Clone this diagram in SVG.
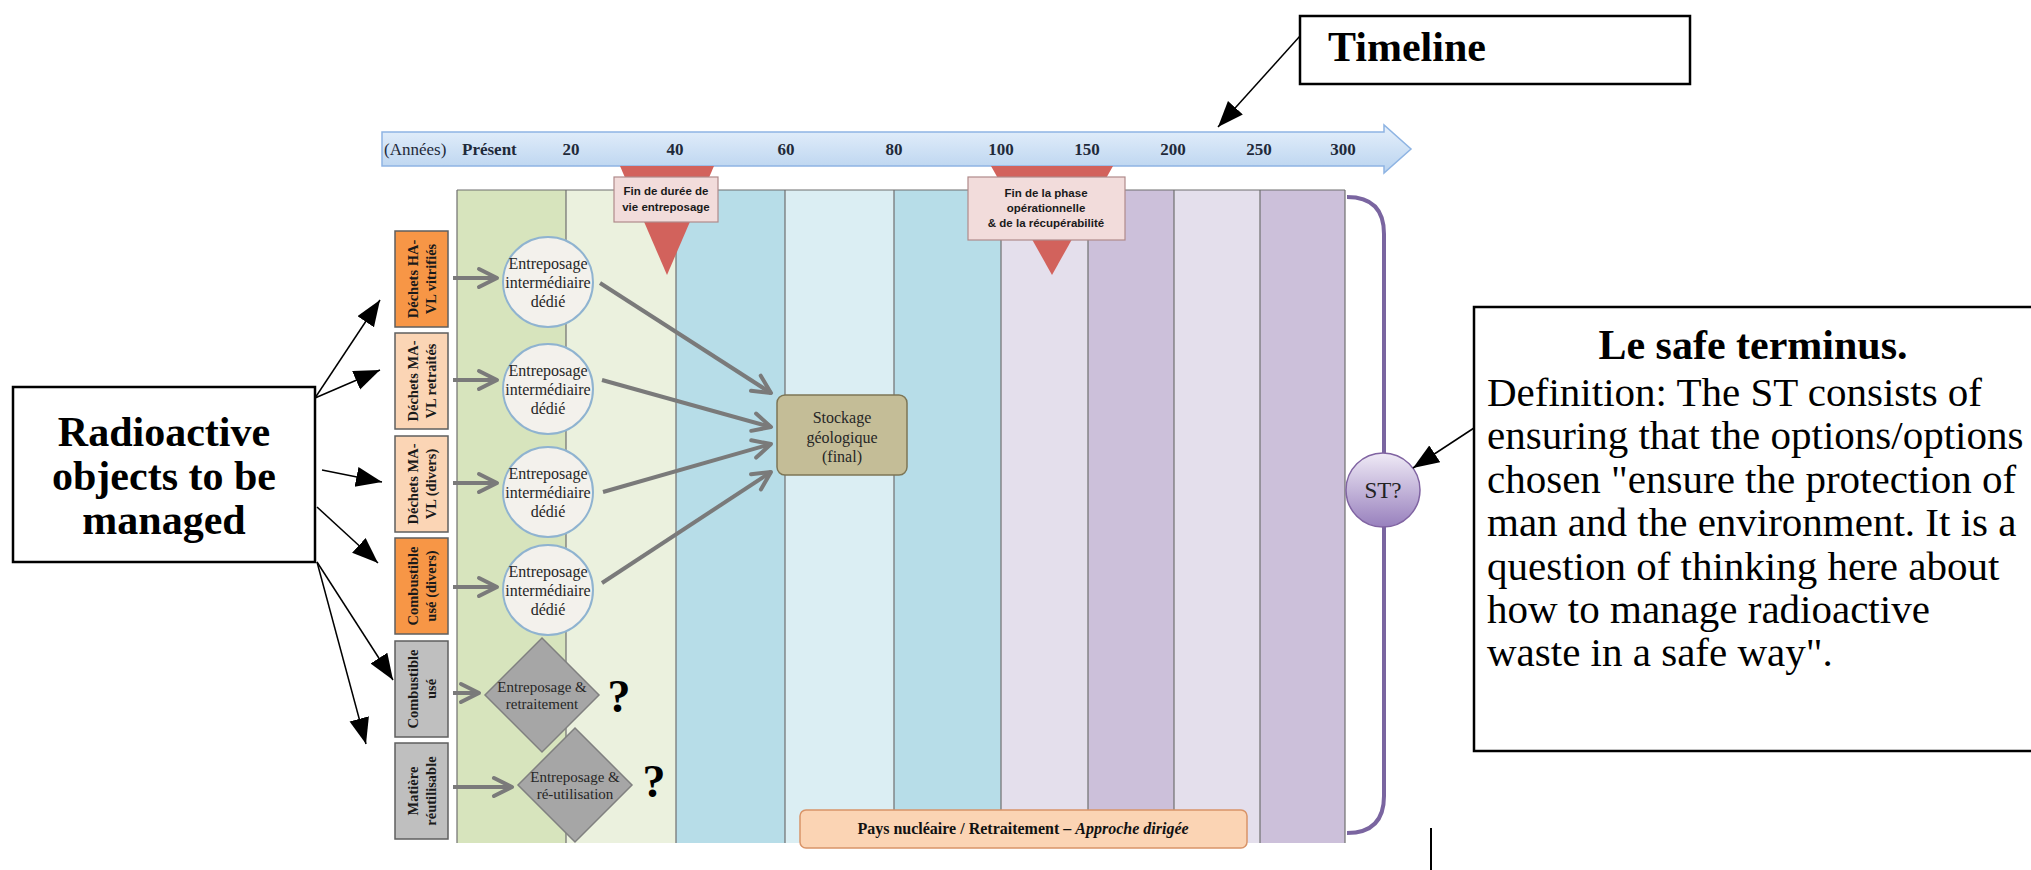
<svg xmlns="http://www.w3.org/2000/svg" width="2031" height="870" viewBox="0 0 2031 870">
<style>
.serif{font-family:"Liberation Serif","Times New Roman",serif}
.sans{font-family:"Liberation Sans",Arial,sans-serif}
.cat{font-family:"Liberation Serif",serif;font-weight:bold;font-size:14.5px;fill:#1a1a1a;text-anchor:middle}
.circ{fill:#f3f1ec;stroke:#8fb3d0;stroke-width:2}
.ctext{font-family:"Liberation Serif",serif;font-size:16px;fill:#262626;text-anchor:middle}
.dia{fill:#a6a6a6;stroke:#808080;stroke-width:1.5}
.dtext{font-family:"Liberation Serif",serif;font-size:15px;fill:#262626;text-anchor:middle}
.tl{font-family:"Liberation Serif",serif;font-size:17px;fill:#1f2a3a;font-weight:bold}
.garrow{stroke:#7a7a7a;stroke-width:4;fill:none;marker-end:url(#chev)}
.barrow{stroke:#000;stroke-width:1.5;fill:none;marker-end:url(#blk)}
.div{stroke:#6f6f6f;stroke-width:1.2}
.lbl{font-family:"Liberation Sans",Arial,sans-serif;font-weight:bold;font-size:11.5px;fill:#1a1a1a;text-anchor:middle}
.big{font-family:"Liberation Serif",serif;font-weight:bold;font-size:42px;fill:#000}
.body{font-family:"Liberation Serif",serif;font-size:41px;fill:#000}
</style>
<defs>
<linearGradient id="tlg" x1="0" y1="0" x2="0" y2="1">
<stop offset="0" stop-color="#e6f0fb"/>
<stop offset="1" stop-color="#b9d3ef"/>
</linearGradient>
<linearGradient id="stg" x1="0" y1="0" x2="0" y2="1">
<stop offset="0" stop-color="#efeaf6"/>
<stop offset="1" stop-color="#9880bd"/>
</linearGradient>
<marker id="chev" markerUnits="userSpaceOnUse" markerWidth="26" markerHeight="26" refX="21" refY="12" orient="auto">
<path d="M3,3 L21,12 L3,21" fill="none" stroke="#7a7a7a" stroke-width="4" stroke-linecap="round" stroke-linejoin="round"/>
</marker>
<marker id="blk" markerUnits="userSpaceOnUse" markerWidth="28" markerHeight="22" refX="26" refY="10" orient="auto">
<path d="M0,0 L26,10 L0,20 z" fill="#000"/>
</marker>
</defs>

<!-- timeline band columns -->
<g id="bands">
<rect x="457" y="190" width="109" height="653" fill="#d7e4bd"/>
<rect x="566" y="190" width="110" height="653" fill="#ebf1de"/>
<rect x="676" y="190" width="109" height="653" fill="#b7dde8"/>
<rect x="785" y="190" width="109" height="653" fill="#dbeef3"/>
<rect x="894" y="190" width="107" height="653" fill="#b7dde8"/>
<rect x="1001" y="190" width="87" height="653" fill="#e4dfec"/>
<rect x="1088" y="190" width="86" height="653" fill="#ccc0da"/>
<rect x="1174" y="190" width="86" height="653" fill="#e4dfec"/>
<rect x="1260" y="190" width="85" height="653" fill="#ccc0da"/>
<line class="div" x1="457" y1="190" x2="1345" y2="190"/>
<line class="div" x1="457" y1="190" x2="457" y2="843"/>
<line class="div" x1="566" y1="190" x2="566" y2="843"/>
<line class="div" x1="676" y1="190" x2="676" y2="843"/>
<line class="div" x1="785" y1="190" x2="785" y2="843"/>
<line class="div" x1="894" y1="190" x2="894" y2="843"/>
<line class="div" x1="1001" y1="190" x2="1001" y2="843"/>
<line class="div" x1="1088" y1="190" x2="1088" y2="843"/>
<line class="div" x1="1174" y1="190" x2="1174" y2="843"/>
<line class="div" x1="1260" y1="190" x2="1260" y2="843"/>
<line class="div" x1="1345" y1="190" x2="1345" y2="843"/>
</g>

<!-- timeline arrow -->
<g id="timeline-arrow">
<path d="M382,132 L1384,132 L1384,125 L1411,149 L1384,173 L1384,166 L382,166 z" fill="url(#tlg)" stroke="#8eb4e3" stroke-width="1.5"/>
<text class="serif" x="384" y="155" font-size="17" fill="#1f2a3a">(Années)</text>
<text class="tl" x="462" y="155">Présent</text>
<text class="tl" x="571" y="155" text-anchor="middle">20</text>
<text class="tl" x="675" y="155" text-anchor="middle">40</text>
<text class="tl" x="786" y="155" text-anchor="middle">60</text>
<text class="tl" x="894" y="155" text-anchor="middle">80</text>
<text class="tl" x="1001" y="155" text-anchor="middle">100</text>
<text class="tl" x="1087" y="155" text-anchor="middle">150</text>
<text class="tl" x="1173" y="155" text-anchor="middle">200</text>
<text class="tl" x="1259" y="155" text-anchor="middle">250</text>
<text class="tl" x="1343" y="155" text-anchor="middle">300</text>
</g>

<!-- milestones -->
<g id="milestone-1">
<path d="M620,166 L714,166 L667,275 z" fill="#d2625c"/>
<rect x="614" y="177" width="104" height="45" fill="#f2dcdb" stroke="#b08a8a" stroke-width="1.2"/>
<text class="lbl" x="666" y="195">Fin de durée de</text>
<text class="lbl" x="666" y="211">vie entreposage</text>
</g>
<g id="milestone-2">
<path d="M991,166 L1113,166 L1052,275 z" fill="#d2625c"/>
<rect x="968" y="177" width="157" height="63" fill="#f2dcdb" stroke="#b08a8a" stroke-width="1.2"/>
<text class="lbl" x="1046" y="197">Fin de la phase</text>
<text class="lbl" x="1046" y="212">opérationnelle</text>
<text class="lbl" x="1046" y="227">&amp; de la récupérabilité</text>
</g>

<!-- left box -->
<g id="radioactive-objects">
<rect x="13" y="387" width="302" height="175" fill="#fff" stroke="#000" stroke-width="2.5"/>
<text class="big" x="164" y="446" text-anchor="middle" font-size="43.5">Radioactive</text>
<text class="big" x="164" y="490" text-anchor="middle" font-size="43.5">objects to be</text>
<text class="big" x="164" y="534" text-anchor="middle" font-size="43.5">managed</text>
</g>

<!-- category boxes -->
<g id="cat-1">
<rect x="395" y="231" width="53" height="96" fill="#f79646" stroke="#5f5f5f" stroke-width="1.5"/>
<g transform="translate(421.5,279) rotate(-90)"><text class="cat" x="0" y="-4">Déchets HA-</text><text class="cat" x="0" y="14">VL vitrifiés</text></g>
</g>
<g id="cat-2">
<rect x="395" y="333" width="53" height="96" fill="#fbd5b5" stroke="#5f5f5f" stroke-width="1.5"/>
<g transform="translate(421.5,381) rotate(-90)"><text class="cat" x="0" y="-4">Déchets MA-</text><text class="cat" x="0" y="14">VL retraités</text></g>
</g>
<g id="cat-3">
<rect x="395" y="436" width="53" height="96" fill="#fbd5b5" stroke="#5f5f5f" stroke-width="1.5"/>
<g transform="translate(421.5,484) rotate(-90)"><text class="cat" x="0" y="-4">Déchets MA-</text><text class="cat" x="0" y="14">VL (divers)</text></g>
</g>
<g id="cat-4">
<rect x="395" y="538" width="53" height="96" fill="#f79646" stroke="#5f5f5f" stroke-width="1.5"/>
<g transform="translate(421.5,586) rotate(-90)"><text class="cat" x="0" y="-4">Combustible</text><text class="cat" x="0" y="14">usé (divers)</text></g>
</g>
<g id="cat-5">
<rect x="395" y="641" width="53" height="96" fill="#bfbfbf" stroke="#5f5f5f" stroke-width="1.5"/>
<g transform="translate(421.5,689) rotate(-90)"><text class="cat" x="0" y="-4">Combustible</text><text class="cat" x="0" y="14">usé</text></g>
</g>
<g id="cat-6">
<rect x="395" y="743" width="53" height="96" fill="#bfbfbf" stroke="#5f5f5f" stroke-width="1.5"/>
<g transform="translate(421.5,791) rotate(-90)"><text class="cat" x="0" y="-4">Matière</text><text class="cat" x="0" y="14">réutilisable</text></g>
</g>

<!-- storage circles -->
<g id="store-1"><circle class="circ" cx="548" cy="282" r="45"/>
<text class="ctext" x="548" y="269">Entreposage</text><text class="ctext" x="548" y="288">intermédiaire</text><text class="ctext" x="548" y="307">dédié</text></g>
<g id="store-2"><circle class="circ" cx="548" cy="389" r="45"/>
<text class="ctext" x="548" y="376">Entreposage</text><text class="ctext" x="548" y="395">intermédiaire</text><text class="ctext" x="548" y="414">dédié</text></g>
<g id="store-3"><circle class="circ" cx="548" cy="492" r="45"/>
<text class="ctext" x="548" y="479">Entreposage</text><text class="ctext" x="548" y="498">intermédiaire</text><text class="ctext" x="548" y="517">dédié</text></g>
<g id="store-4"><circle class="circ" cx="548" cy="590" r="45"/>
<text class="ctext" x="548" y="577">Entreposage</text><text class="ctext" x="548" y="596">intermédiaire</text><text class="ctext" x="548" y="615">dédié</text></g>

<!-- diamonds -->
<g id="retraitement">
<path class="dia" d="M542,638 L599,695 L542,752 L485,695 z"/>
<text class="dtext" x="542" y="692">Entreposage &amp;</text>
<text class="dtext" x="542" y="709">retraitement</text>
<text class="serif" x="619" y="712" font-size="46" font-weight="bold" text-anchor="middle">?</text>
</g>
<g id="reutilisation">
<path class="dia" d="M575,728 L632,785 L575,842 L518,785 z"/>
<text class="dtext" x="575" y="782">Entreposage &amp;</text>
<text class="dtext" x="575" y="799">ré-utilisation</text>
<text class="serif" x="654" y="797" font-size="46" font-weight="bold" text-anchor="middle">?</text>
</g>

<!-- geological storage -->
<g id="stockage">
<rect x="777" y="395" width="130" height="80" rx="8" fill="#c4bd97" stroke="#7d7656" stroke-width="1.5"/>
<text class="ctext" x="842" y="423">Stockage</text>
<text class="ctext" x="842" y="443">géologique</text>
<text class="ctext" x="842" y="462">(final)</text>
</g>

<!-- bottom label -->
<g id="pays-nucleaire">
<rect x="800" y="810" width="447" height="38" rx="6" fill="#fbd4b4" stroke="#d99468" stroke-width="1.5"/>
<text class="serif" x="1023" y="834" font-size="16" font-weight="bold" text-anchor="middle" fill="#111">Pays nucléaire / Retraitement – <tspan font-style="italic">Approche dirigée</tspan></text>
</g>

<!-- bracket and ST -->
<g id="bracket">
<path d="M1347,197 Q1384,197 1384,234 L1384,796 Q1384,833 1347,833" fill="none" stroke="#7a65a0" stroke-width="4"/>
</g>
<g id="st">
<circle cx="1383" cy="490" r="37" fill="url(#stg)" stroke="#8064a2" stroke-width="1.5"/>
<text class="serif" x="1383" y="498" font-size="23" text-anchor="middle" fill="#222">ST?</text>
</g>

<!-- timeline label box -->
<g id="timeline-box">
<rect x="1300" y="16" width="390" height="68" fill="#fff" stroke="#000" stroke-width="2.5"/>
<text class="big" x="1328" y="61">Timeline</text>
</g>

<!-- safe terminus box -->
<g id="safe-terminus">
<rect x="1474" y="307" width="565" height="444" fill="#fff" stroke="#000" stroke-width="2.5"/>
<text class="big" x="1753" y="359" text-anchor="middle" font-size="40.5">Le safe terminus.</text>
<text class="body" x="1487" y="406">Definition: The ST consists of</text>
<text class="body" x="1487" y="449.4">ensuring that the options/options</text>
<text class="body" x="1487" y="492.8">chosen "ensure the protection of</text>
<text class="body" x="1487" y="536.2">man and the environment. It is a</text>
<text class="body" x="1487" y="579.6">question of thinking here about</text>
<text class="body" x="1487" y="623">how to manage radioactive</text>
<text class="body" x="1487" y="666.4">waste in a safe way".</text>
</g>

<line x1="1431" y1="828" x2="1431" y2="870" stroke="#000" stroke-width="2"/>

<!-- connectors -->
<g id="connectors">
<line class="barrow" x1="315" y1="398" x2="380" y2="300"/>
<line class="barrow" x1="315" y1="398" x2="380" y2="370"/>
<line class="barrow" x1="322" y1="470" x2="382" y2="482"/>
<line class="barrow" x1="317" y1="507" x2="378" y2="563"/>
<line class="barrow" x1="317" y1="562" x2="393" y2="680"/>
<line class="barrow" x1="317" y1="562" x2="366" y2="744"/>
<line class="barrow" x1="1300" y1="36" x2="1218" y2="127"/>
<line class="barrow" x1="1474" y1="428" x2="1413" y2="468"/>
<line class="garrow" x1="453" y1="278" x2="497" y2="278"/>
<line class="garrow" x1="453" y1="380" x2="497" y2="380"/>
<line class="garrow" x1="453" y1="483" x2="497" y2="483"/>
<line class="garrow" x1="453" y1="587" x2="497" y2="587"/>
<line class="garrow" x1="453" y1="693" x2="479" y2="693"/>
<line class="garrow" x1="453" y1="787" x2="512" y2="787"/>
<line class="garrow" x1="600" y1="283" x2="771" y2="393"/>
<line class="garrow" x1="602" y1="380" x2="771" y2="427"/>
<line class="garrow" x1="603" y1="492" x2="771" y2="444"/>
<line class="garrow" x1="602" y1="583" x2="771" y2="472"/>
</g>
</svg>
